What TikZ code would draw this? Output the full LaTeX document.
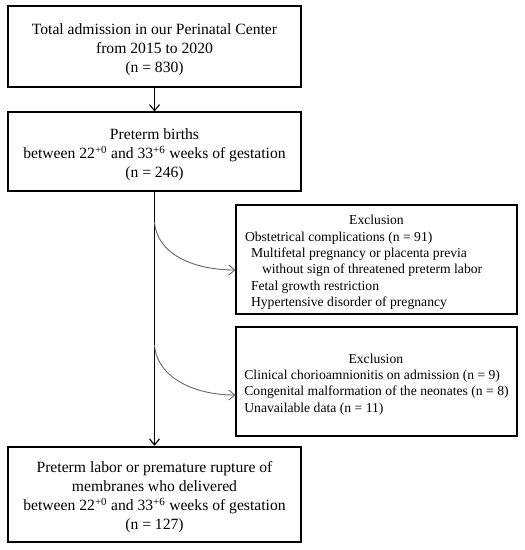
\documentclass[tikz,border=0pt]{standalone}
\usepackage{fontspec}
\setmainfont{Liberation Serif}
\usetikzlibrary{arrows.meta}
\newcommand{\lowc}[1]{\raisebox{-3bp}[\height][\depth]{\begin{tabular}{@{}c@{}}#1\end{tabular}}}
\newcommand{\lowl}[1]{\raisebox{-3bp}[\height][\depth]{\begin{tabular}{@{}l@{}}#1\end{tabular}}}
\begin{document}
\begin{tikzpicture}[x=1bp,y=-1bp,
  mainbox/.style={draw=black,line width=1.1bp,inner sep=0pt,
    minimum width=293bp,font=\fontsize{15.7}{19}\selectfont},
  exbox/.style={draw=black,line width=1.1bp,inner sep=0pt,minimum width=281bp,
    minimum height=109bp,font=\fontsize{13.7}{16.4}\selectfont},
  flow/.style={line width=1.1bp,-{Straight Barb[length=6bp,width=10bp]}},
  side/.style={draw=black!60,line width=0.9bp,-{Straight Barb[length=6bp,width=10bp]}}]
\useasboundingbox (0,0) rectangle (525,550);
\node[mainbox,minimum height=81bp] (b1) at (154.5,46.5)
  {\lowc{Total admission in our Perinatal Center\\from 2015 to 2020\\(n = 830)}};
\node[mainbox,minimum height=79bp] (b2) at (154.5,151.5)
  {\lowc{Preterm births\\between 22\textsuperscript{+0} and 33\textsuperscript{+6} weeks of gestation\\(n = 246)}};
\node[mainbox,line width=2.6bp,minimum height=95bp] (b3) at (154.5,494.5)
  {\lowc{Preterm labor or premature rupture of\\membranes who delivered\\between 22\textsuperscript{+0} and 33\textsuperscript{+6} weeks of gestation\\(n = 127)}};
\node[exbox] (e1) at (376.5,259.5) {\lowl{%
\makebox[263bp]{Exclusion}\\
Obstetrical complications (n = 91)\\
\hspace{6bp}Multifetal pregnancy or placenta previa\\
\hspace{17bp}without sign of threatened preterm labor\\
\hspace{6bp}Fetal growth restriction\\
\hspace{6bp}Hypertensive disorder of pregnancy}};
\node[exbox] (e2) at (376.5,381.5) {\lowl{%
\makebox[263bp]{Exclusion}\\
Clinical chorioamnionitis on admission (n = 9)\\
Congenital malformation of the neonates (n = 8)\\
Unavailable data (n = 11)}};
\coordinate (c1) at (b2.south |- 0,222);
\coordinate (c2) at (b2.south |- 0,345);
\coordinate (t1) at (e1.west |- 0,270);
\coordinate (t2) at (e2.west |- 0,395);
\draw[flow] (b1.south) -- (b2.north);
\draw[flow] (b2.south) -- (b3.north);
\draw[side] (c1) .. controls (157,255) and (195,270) .. (t1);
\draw[side] (c2) .. controls (157,378) and (195,395) .. (t2);
\end{tikzpicture}
\end{document}
